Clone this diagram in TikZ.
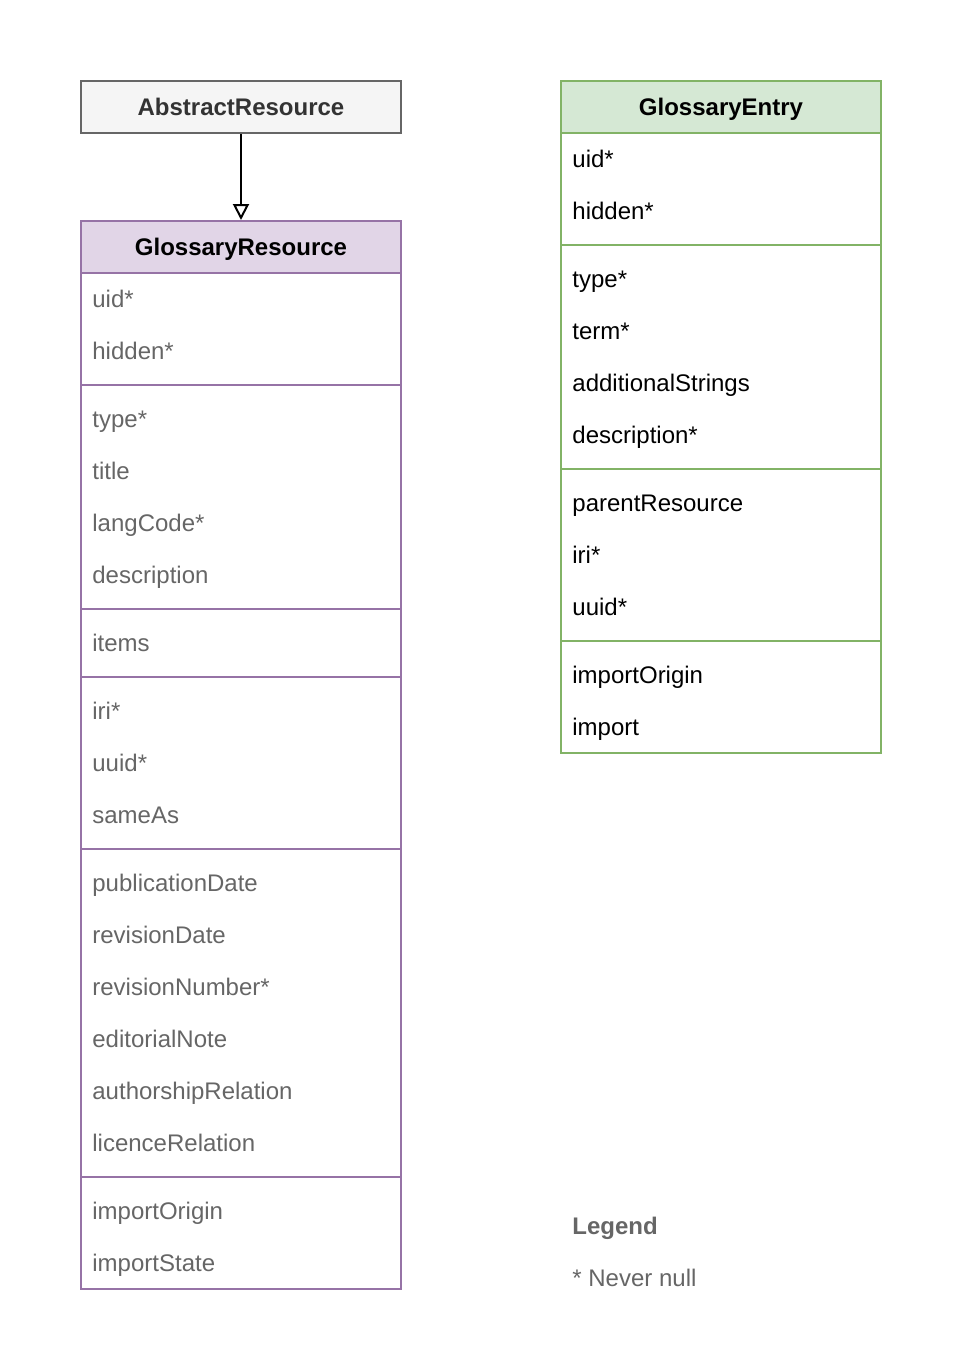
\documentclass[tikz,border=0pt]{standalone}
\usepackage{fontspec}
\setmainfont{Liberation Sans}
\usetikzlibrary{arrows.meta,positioning}

\definecolor{absfill}{HTML}{F5F5F5}
\definecolor{absline}{HTML}{666666}
\definecolor{abstext}{HTML}{333333}
\definecolor{resfill}{HTML}{E1D5E7}
\definecolor{resline}{HTML}{9673A6}
\definecolor{entfill}{HTML}{D5E8D4}
\definecolor{entline}{HTML}{82B366}
\definecolor{greytext}{HTML}{666666}

\newcommand{\diagfont}{\fontsize{12pt}{14pt}\selectfont}

\tikzset{
  head/.style={draw, line width=1pt, minimum width=160pt, minimum height=26pt, inner sep=0pt,
    text height=8.6pt, text depth=0pt, font=\diagfont\bfseries},
  part/.style={draw, line width=1pt, minimum width=160pt, anchor=north west, inner sep=0pt, outer sep=0pt},
  field/.style={anchor=base west, inner sep=0pt},
}

\begin{document}
\begin{tikzpicture}[x=0.5pt, y=-0.5pt, font=\diagfont]
        \useasboundingbox (0,0) rectangle (960,1360);

        \node[head, fill=absfill, draw=absline, text=abstext] (abstract) at (241,107) {AbstractResource};

        % GlossaryResource
        \node[head, fill=resfill, draw=resline] (resource) at (241,247) {GlossaryResource};
        \foreach \top/\h [count=\i] in {273/112, 385/224, 609/68, 677/172, 849/328, 1177/112}
            \node[part, draw=resline, minimum height=\h*0.5pt] (rpart\i) at (81,\top) {};
        \foreach \t/\y [count=\i] in {uid*/299, hidden*/351, type*/419, title/471, langCode*/523,
            description/575, items/643, iri*/711, uuid*/763, sameAs/815, publicationDate/883,
            revisionDate/935, revisionNumber*/987, editorialNote/1039, authorshipRelation/1091,
            licenceRelation/1143, importOrigin/1211, importState/1263}
            \node[field, text=greytext] (rfield\i) at (92,{\y+8}) {\t};

        % GlossaryEntry
        \node[head, fill=entfill, draw=entline] (entry) at (721,107) {GlossaryEntry};
        \foreach \top/\h [count=\i] in {133/112, 245/224, 469/172, 641/112}
            \node[part, draw=entline, minimum height=\h*0.5pt] (epart\i) at (561,\top) {};
        \foreach \t/\y [count=\i] in {uid*/159, hidden*/211, type*/279, term*/331,
            additionalStrings/383, description*/435, parentResource/503, iri*/555, uuid*/607,
            importOrigin/675, import/727}
            \node[field] (efield\i) at (572,{\y+8}) {\t};

        \draw[line width=1pt, -{Triangle[open, length=8pt, width=8pt]}] (abstract) -- (resource);

        \node[field, text=greytext, font=\diagfont\bfseries] (legend) at (572,1234) {Legend};
        \node[field, text=greytext] (nevernull) at (572,1286) {* Never null};
\end{tikzpicture}
\end{document}
